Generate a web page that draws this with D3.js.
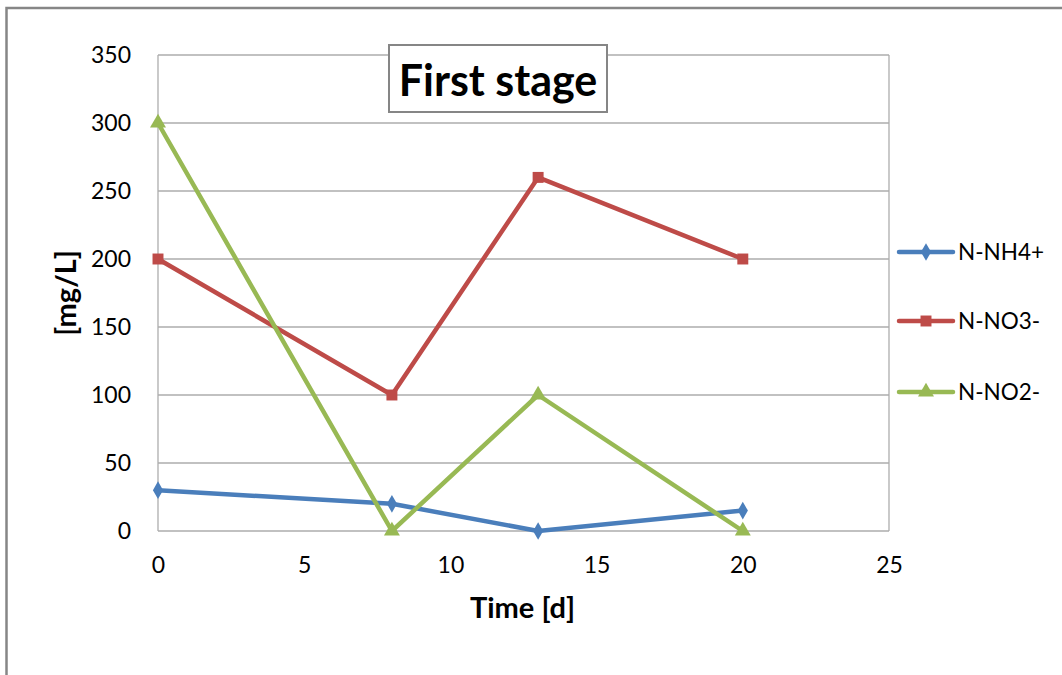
<!DOCTYPE html>
<html>
<head>
<meta charset="utf-8">
<script src="https://cdn.jsdelivr.net/npm/d3@7"></script>
<style>
  html, body { margin: 0; padding: 0; background: #fff; }
  svg { display: block; }
  text { font-family: Lato, "Noto Sans", "Liberation Sans", sans-serif; fill: #000; }
</style>
</head>
<body>
<svg id="chart" width="1062" height="675"></svg>
<script>
// Sampling days
const days = [0, 8, 13, 20];

// Nitrogen species concentrations [mg/L]
const nh4 = [30, 20, 0, 15];
const no3 = [200, 100, 260, 200];
const no2 = [300, 0, 100, 0];

const seriesNames = ["N-NH4+", "N-NO3-", "N-NO2-"];
const seriesColors = ["#4A7EBB", "#BE4B48", "#98B954"];
const seriesMarkers = ["diamond", "square", "triangle"];

const xTicks = [0, 5, 10, 15, 20, 25];
const yTicks = [0, 50, 100, 150, 200, 250, 300, 350];

const titleText = "First stage";
const xLabel = "Time [d]";
const yLabel = "[mg/L]";

const seriesValues = [nh4, no3, no2];

const svg = d3.select("#chart");

// Outer chart frame
svg.append("rect")
  .attr("x", 6.5).attr("y", 8)
  .attr("width", 1100).attr("height", 700)
  .attr("fill", "#fff")
  .attr("stroke", "#868686")
  .attr("stroke-width", 2.5);

const plot = { left: 158, top: 55, right: 889, bottom: 531 };

const x = d3.scaleLinear().domain([0, 25]).range([plot.left, plot.right]);
const y = d3.scaleLinear().domain([0, 350]).range([plot.bottom, plot.top]);

// Horizontal gridlines
svg.append("g")
  .selectAll("line")
  .data(yTicks)
  .join("line")
  .attr("x1", plot.left).attr("x2", plot.right)
  .attr("y1", d => y(d)).attr("y2", d => y(d))
  .attr("stroke", "#ADADAD")
  .attr("stroke-width", 1.3);

// Plot area border (left and right edges)
svg.append("line")
  .attr("x1", plot.left).attr("x2", plot.left)
  .attr("y1", plot.top).attr("y2", plot.bottom)
  .attr("stroke", "#ADADAD").attr("stroke-width", 1.3);
svg.append("line")
  .attr("x1", plot.right).attr("x2", plot.right)
  .attr("y1", plot.top).attr("y2", plot.bottom)
  .attr("stroke", "#ADADAD").attr("stroke-width", 1.3);

// Axes
const yAxis = d3.axisLeft(y).tickValues(yTicks).tickSize(0).tickPadding(27);
const yG = svg.append("g").attr("transform", `translate(${plot.left},0)`).call(yAxis);
yG.select(".domain").remove();
yG.selectAll("text")
  .attr("font-size", 23)
  .attr("fill", "#222")
  .style("font-family", "Lato, 'Noto Sans', sans-serif");

const xAxis = d3.axisBottom(x).tickValues(xTicks).tickSize(0).tickPadding(26);
const xG = svg.append("g").attr("transform", `translate(0,${plot.bottom})`).call(xAxis);
xG.select(".domain").remove();
xG.selectAll("text")
  .attr("font-size", 23)
  .attr("fill", "#222")
  .style("font-family", "Lato, 'Noto Sans', sans-serif");

// Axis titles
svg.append("text")
  .attr("x", x(12.5) - 1).attr("y", 618)
  .attr("text-anchor", "middle")
  .attr("font-size", 29).attr("font-weight", "bold")
  .text(xLabel);

svg.append("text")
  .attr("transform", `translate(76,${y(175)}) rotate(-90)`)
  .attr("text-anchor", "middle")
  .attr("font-size", 29).attr("font-weight", "bold")
  .text(yLabel);

// Marker shapes
function markerPath(kind) {
  if (kind === "diamond") return d3.symbol().type(d3.symbolDiamond).size(90)();
  if (kind === "square") return d3.symbol().type(d3.symbolSquare).size(120)();
  return d3.symbol().type(d3.symbolTriangle).size(110)();
}

const line = d3.line().x(d => x(d[0])).y(d => y(d[1]));

seriesValues.forEach((vals, i) => {
  const pts = days.map((d, k) => [d, vals[k]]);
  svg.append("path")
    .datum(pts)
    .attr("d", line)
    .attr("fill", "none")
    .attr("stroke", seriesColors[i])
    .attr("stroke-width", 4.5)
    .attr("stroke-linejoin", "round")
    .attr("stroke-linecap", "round");
  svg.append("g")
    .selectAll("path")
    .data(pts)
    .join("path")
    .attr("d", markerPath(seriesMarkers[i]))
    .attr("transform", d => `translate(${x(d[0])},${y(d[1])})`)
    .attr("fill", seriesColors[i]);
});

// Title box
const titleG = svg.append("g");
titleG.append("rect")
  .attr("x", 389).attr("y", 45)
  .attr("width", 218).attr("height", 67)
  .attr("fill", "#fff")
  .attr("stroke", "#868686")
  .attr("stroke-width", 2);
titleG.append("text")
  .attr("x", 498).attr("y", 96)
  .attr("text-anchor", "middle")
  .attr("font-size", 43).attr("font-weight", "bold")
  .text(titleText);

// Legend
const legendY = [252, 321, 392];
const legend = svg.append("g");
seriesNames.forEach((name, i) => {
  const g = legend.append("g").attr("transform", `translate(0,${legendY[i]})`);
  g.append("line")
    .attr("x1", 899).attr("x2", 953)
    .attr("y1", 0).attr("y2", 0)
    .attr("stroke", seriesColors[i])
    .attr("stroke-width", 4.5)
    .attr("stroke-linecap", "round");
  g.append("path")
    .attr("d", markerPath(seriesMarkers[i]))
    .attr("transform", "translate(926,0)")
    .attr("fill", seriesColors[i]);
  g.append("text")
    .attr("x", 958).attr("y", 8)
    .attr("font-size", 22.5)
    .attr("fill", "#222")
    .text(name);
});
</script>
</body>
</html>
